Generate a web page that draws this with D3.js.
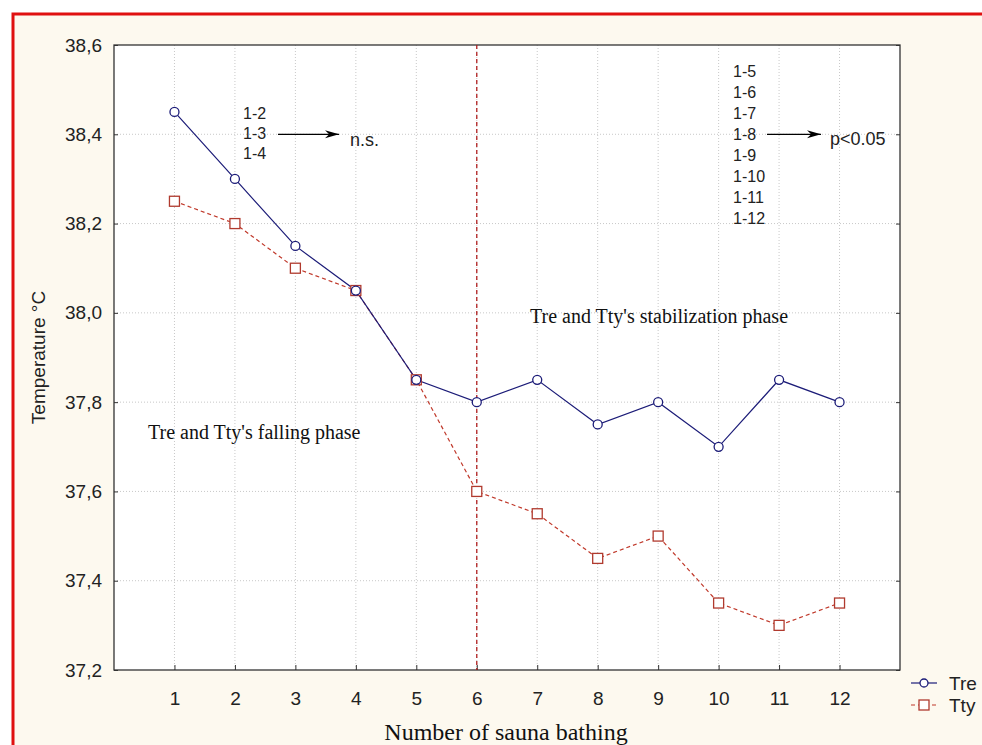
<!DOCTYPE html>
<html>
<head>
    <title></title>
    <script src="https://d3js.org/d3.v7.min.js"></script>
    <style type="text/css">
        html, body { margin: 0; padding: 0; background: #fff; }
        svg { display: block; }
    </style>
</head>
<body>

    <svg id="main"></svg>

    <script>
      // settings
      const width  = 982;
      const height = 745;
      const margin = {left: 114, top: 45, right: 82, bottom: 75};

      // data
      const sessions = [1, 2, 3, 4, 5, 6, 7, 8, 9, 10, 11, 12];
      const tre = [38.45, 38.3, 38.15, 38.05, 37.85, 37.8, 37.85, 37.75, 37.8, 37.7, 37.85, 37.8];
      const tty = [38.25, 38.2, 38.1, 38.05, 37.85, 37.6, 37.55, 37.45, 37.5, 37.35, 37.3, 37.35];
      const yTicks = [37.2, 37.4, 37.6, 37.8, 38.0, 38.2, 38.4, 38.6];
      const nsPairs = ["1-2", "1-3", "1-4"];
      const sigPairs = ["1-5", "1-6", "1-7", "1-8", "1-9", "1-10", "1-11", "1-12"];
      const phaseSplit = 6;

      const svg = d3.select("#main")
        .attr("width", width)
        .attr("height", height);

      // frame
      svg.append("rect")
        .attr("x", 13).attr("y", 14)
        .attr("width", width).attr("height", height)
        .attr("fill", "#fdf9ef")
        .attr("stroke", "#e01010")
        .attr("stroke-width", 3);

      const x = d3.scaleLinear().domain([0, 13]).range([margin.left, width - margin.right]);
      const y = d3.scaleLinear().domain([37.2, 38.6]).range([height - margin.bottom, margin.top]);

      const g = svg.append("g");

      // plot background
      g.append("rect")
        .attr("x", x(0)).attr("y", y(38.6))
        .attr("width", x(13) - x(0)).attr("height", y(37.2) - y(38.6))
        .attr("fill", "#fff");

      // grid
      g.selectAll(".vgrid").data(sessions).enter().append("line")
        .attr("x1", d => x(d)).attr("x2", d => x(d))
        .attr("y1", y(38.6)).attr("y2", y(37.2))
        .attr("stroke", "#c8c8c8").attr("stroke-dasharray", "1,2");
      g.selectAll(".hgrid").data(yTicks.slice(1, -1)).enter().append("line")
        .attr("x1", x(0)).attr("x2", x(13))
        .attr("y1", d => y(d)).attr("y2", d => y(d))
        .attr("stroke", "#c8c8c8").attr("stroke-dasharray", "1,2");

      // axes
      const sans = "Arial, 'Liberation Sans', sans-serif";
      const serif = "'Times New Roman', 'Liberation Serif', serif";
      const fmt = d => d3.format(".1f")(d).replace(".", ",");
      const yAxis = d3.axisLeft(y).tickValues(yTicks).tickSizeInner(-4).tickSizeOuter(0)
        .tickPadding(12).tickFormat(fmt);
      const xAxis = d3.axisBottom(x).tickValues(sessions).tickSizeInner(-5).tickSizeOuter(0)
        .tickPadding(22).tickFormat(d3.format("d"));
      const styleAxis = sel => {
        sel.select(".domain").remove();
        sel.selectAll("line").attr("stroke", "#333");
        sel.selectAll("text").attr("font-family", sans)
          .attr("font-size", 19).attr("fill", "#222");
      };
      g.append("g").attr("transform", `translate(${x(0)},0)`).call(yAxis).call(styleAxis);
      g.append("g").attr("transform", `translate(${x(13)},0)`)
        .call(d3.axisRight(y).tickValues(yTicks).tickSizeInner(-4).tickSizeOuter(0).tickFormat(""))
        .call(styleAxis);
      g.append("g").attr("transform", `translate(0,${y(37.2)})`).call(xAxis).call(styleAxis);

      g.append("rect")
        .attr("x", x(0)).attr("y", y(38.6))
        .attr("width", x(13) - x(0)).attr("height", y(37.2) - y(38.6))
        .attr("fill", "none").attr("stroke", "#333").attr("stroke-width", 1.3);

      // phase separator
      g.append("line")
        .attr("x1", x(phaseSplit)).attr("x2", x(phaseSplit))
        .attr("y1", y(38.6)).attr("y2", y(37.2))
        .attr("stroke", "#b02020").attr("stroke-width", 1.3).attr("stroke-dasharray", "4,3");

      // series
      const line = d3.line().x((d, i) => x(sessions[i])).y(d => y(d));
      g.append("path").datum(tty).attr("d", line)
        .attr("fill", "none").attr("stroke", "#c0392b").attr("stroke-width", 1.2)
        .attr("stroke-dasharray", "4,3");
      g.append("path").datum(tre).attr("d", line)
        .attr("fill", "none").attr("stroke", "#1c1c78").attr("stroke-width", 1.2);

      g.selectAll(".sq").data(tty).enter().append("rect")
        .attr("x", (d, i) => x(sessions[i]) - 5).attr("y", d => y(d) - 5)
        .attr("width", 10).attr("height", 10)
        .attr("fill", "#fff").attr("stroke", "#b03a2e").attr("stroke-width", 1.3);
      g.selectAll(".dot").data(tre).enter().append("circle")
        .attr("cx", (d, i) => x(sessions[i])).attr("cy", d => y(d)).attr("r", 4.5)
        .attr("fill", "#fff").attr("stroke", "#1c1c78").attr("stroke-width", 1.3);

      // annotations
      svg.append("defs").append("marker")
        .attr("id", "arrow").attr("viewBox", "0 0 10 10")
        .attr("refX", 10).attr("refY", 5)
        .attr("markerWidth", 14).attr("markerHeight", 10)
        .attr("markerUnits", "userSpaceOnUse")
        .attr("orient", "auto")
        .attr("preserveAspectRatio", "none")
        .append("path").attr("d", "M0,1 L10,5 L0,9 L3,5 Z").attr("fill", "#000");

      g.selectAll(".ns").data(nsPairs).enter().append("text")
        .attr("x", 243).attr("y", (d, i) => y(38.4) - 21 + i * 20)
        .attr("dy", "0.35em")
        .attr("font-family", sans).attr("font-size", 16).attr("fill", "#222")
        .text(d => d);
      g.append("line").attr("x1", 278).attr("x2", 339).attr("y1", y(38.4)).attr("y2", y(38.4))
        .attr("stroke", "#000").attr("stroke-width", 1.3).attr("marker-end", "url(#arrow)");
      g.append("text").attr("x", 350).attr("y", y(38.4) + 5).attr("dy", "0.35em")
        .attr("font-family", sans).attr("font-size", 18).attr("fill", "#222").text("n.s.");

      g.selectAll(".sig").data(sigPairs).enter().append("text")
        .attr("x", 733).attr("y", (d, i) => y(38.4) - 63 + i * 21)
        .attr("dy", "0.35em")
        .attr("font-family", sans).attr("font-size", 16).attr("fill", "#222")
        .text(d => d);
      g.append("line").attr("x1", 767).attr("x2", 821).attr("y1", y(38.4)).attr("y2", y(38.4))
        .attr("stroke", "#000").attr("stroke-width", 1.3).attr("marker-end", "url(#arrow)");
      g.append("text").attr("x", 830).attr("y", y(38.4) + 4).attr("dy", "0.35em")
        .attr("font-family", sans).attr("font-size", 18).attr("fill", "#222").text("p<0.05");

      g.append("text").attr("x", 530).attr("y", 316).attr("dy", "0.35em")
        .attr("font-family", serif).attr("font-size", 20).attr("fill", "#111")
        .text("Tre and Tty's stabilization phase");
      g.append("text").attr("x", 148).attr("y", 432).attr("dy", "0.35em")
        .attr("font-family", serif).attr("font-size", 20).attr("fill", "#111")
        .text("Tre and Tty's falling phase");

      // axis titles
      svg.append("text")
        .attr("transform", `translate(45,${(y(38.6) + y(37.2)) / 2}) rotate(-90)`)
        .attr("text-anchor", "middle")
        .attr("font-family", sans).attr("font-size", 19).attr("fill", "#222")
        .text("Temperature °C");
      svg.append("text")
        .attr("x", 506).attr("y", 740)
        .attr("text-anchor", "middle")
        .attr("font-family", serif).attr("font-size", 24).attr("fill", "#111")
        .text("Number of sauna bathing");

      // legend
      const legend = svg.append("g").attr("transform", "translate(911,683)");
      legend.append("line").attr("x1", 0).attr("x2", 26).attr("y1", 0).attr("y2", 0)
        .attr("stroke", "#1c1c78").attr("stroke-width", 1.2);
      legend.append("circle").attr("cx", 13).attr("cy", 0).attr("r", 4)
        .attr("fill", "#fff").attr("stroke", "#1c1c78").attr("stroke-width", 1.3);
      legend.append("text").attr("x", 38).attr("y", 0).attr("dy", "0.35em")
        .attr("font-family", sans).attr("font-size", 19).attr("fill", "#222").text("Tre");
      legend.append("line").attr("x1", 0).attr("x2", 26).attr("y1", 22).attr("y2", 22)
        .attr("stroke", "#c0392b").attr("stroke-width", 1.2).attr("stroke-dasharray", "4,3");
      legend.append("rect").attr("x", 8).attr("y", 17).attr("width", 10).attr("height", 10)
        .attr("fill", "#fff").attr("stroke", "#b03a2e").attr("stroke-width", 1.3);
      legend.append("text").attr("x", 38).attr("y", 22).attr("dy", "0.35em")
        .attr("font-family", sans).attr("font-size", 19).attr("fill", "#222").text("Tty");
    </script>

</body>
</html>
